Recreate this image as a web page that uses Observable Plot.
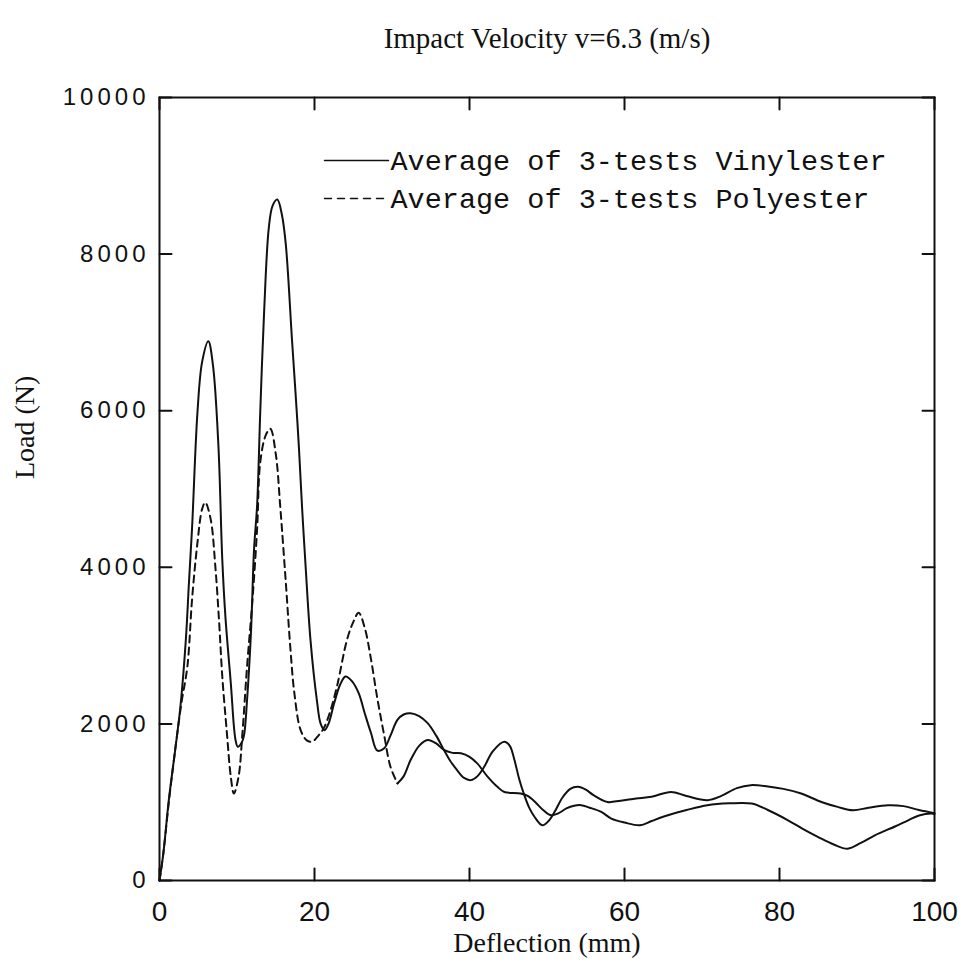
<!DOCTYPE html>
<html><head><meta charset="utf-8">
<script src="https://cdn.jsdelivr.net/npm/d3@7"></script>
<script src="https://cdn.jsdelivr.net/npm/@observablehq/plot@0.6"></script>
<style>
body{margin:0;background:#fff}
g[aria-label="y-axis tick label"] text{letter-spacing:4px}
</style>
</head><body><div id="chart"></div>
<script>
const titleText = "Impact Velocity v=6.3 (m/s)";
const xLabel = "Deflection (mm)";
const yLabel = "Load (N)";
const seriesNames = ["Average of 3-tests Vinylester", "Average of 3-tests Polyester"];
const xTicks = [0, 20, 40, 60, 80, 100];
const yTicks = [0, 2000, 4000, 6000, 8000, 10000];

const deflectionV = [0,0.5,1.2,2.0,2.7,3.4,3.8,4.2,4.9,5.5,6.3,6.9,7.6,8.1,8.5,9.2,9.8,10.1,10.6,10.9,11.3,11.8,12.2,12.6,13.0,13.5,14.1,14.6,15.2,15.8,16.3,17.1,17.6,18.0,18.4,18.85,19.5,20.3,20.8,21.3,21.8,22.5,23.3,24.0,24.8,25.7,26.5,27.3,28.1,29.0,29.8,30.7,31.5,32.4,33.5,34.6,35.7,36.7,37.5,38.4,39.3,40.2,41.0,41.9,43.0,44.5,45.2,45.8,46.4,47.0,47.7,48.4,49.4,50.2,51.0,52.0,53.0,54.0,55.0,56.0,57.8,59.5,61.5,63.5,66.0,68.0,70.7,72.5,74.5,76.3,78.5,80.5,82.8,85.4,87.5,89.5,91.5,94.0,96.0,98.0,100];
const loadV = [0,350,1026,1650,2222,3077,3803,4500,5983,6624,6888,6580,5556,4100,3376,2521,1800,1709,1760,1850,2308,3162,4231,4800,5983,7265,8333,8620,8696,8500,8120,6900,6154,5513,4758,4017,3050,2308,2000,1920,2000,2250,2500,2606,2550,2393,2130,1880,1660,1690,1850,2051,2120,2137,2100,2009,1850,1667,1530,1410,1310,1282,1330,1453,1650,1773,1720,1538,1300,1111,930,811,705,760,880,1060,1170,1196,1160,1090,1003,1020,1047,1070,1131,1080,1026,1080,1180,1218,1200,1170,1111,1003,940,897,930,962,950,900,860];

const deflectionP = [0,0.5,1.2,2.0,2.8,3.6,4.2,4.9,5.5,5.9,6.6,7.2,7.7,8.1,8.7,9.2,9.6,10.2,10.7,11.3,12.0,12.6,13.0,13.7,14.3,15.0,15.6,16.3,16.9,17.4,18.2,19.0,19.7,20.5,21.2,22.0,22.9,24.2,25.0,25.7,26.5,27.3,28.1,29.0,29.8,30.7,31.5,32.4,33.5,34.6,35.7,36.7,37.8,38.9,40.0,41.0,42.3,43.6,44.5,46.6,47.5,48.5,49.5,50.5,51.5,52.5,53.5,54.4,55.5,57.0,58.3,60.0,62.0,63.5,65.6,68.0,70.7,73.5,76.4,78.5,81.1,83.0,85.0,87.0,88.8,90.5,92.3,94.9,96.6,98.0,99.6,100];
const loadP = [0,350,1000,1650,2250,2735,3590,4316,4744,4829,4615,4017,3290,2607,1880,1325,1111,1325,1880,2735,3590,4500,5342,5684,5769,5450,4750,3803,2949,2393,1923,1790,1773,1850,1945,2150,2479,3077,3300,3419,3220,2820,2330,1850,1453,1240,1330,1538,1720,1795,1750,1667,1630,1624,1580,1496,1330,1196,1131,1111,1080,1000,900,833,860,920,955,962,930,876,791,740,705,760,833,900,962,985,983,900,769,660,555,460,406,480,577,690,769,830,855,850];

const dashEnd = 30.7;

const vin = deflectionV.map((d, i) => ({d, L: loadV[i]}));
const pol = deflectionP.map((d, i) => ({d, L: loadP[i]}));
const polDashed = pol.filter(p => p.d <= dashEnd);
const polSolid = pol.filter(p => p.d >= dashEnd);

const lineShape = {draw(ctx, l) { ctx.moveTo(0, 0); ctx.lineTo(0, -l); }};
const ink = "#111";

const chart = Plot.plot({
  width: 965, height: 964,
  marginLeft: 159, marginRight: 31, marginTop: 97, marginBottom: 84,
  x: {domain: [0, 100], label: null},
  y: {domain: [0, 10000], label: null},
  style: {background: "#fff", color: ink, fontFamily: "Liberation Sans"},
  marks: [
    Plot.axisX(xTicks, {anchor: "bottom", tickSize: 0, tickPadding: 21, fontSize: 28, fontFamily: "Liberation Sans", tickFormat: d => String(d), label: null}),
    Plot.axisY(yTicks, {anchor: "left", tickSize: 0, tickPadding: 10, fontSize: 24, fontFamily: "Liberation Sans", tickFormat: d => String(d), label: null}),
    Plot.vector(xTicks, {x: d => d, frameAnchor: "bottom", length: 12, rotate: 0, anchor: "start", shape: lineShape, strokeWidth: 2, stroke: ink}),
    Plot.vector(xTicks, {x: d => d, frameAnchor: "top", length: 12, rotate: 180, anchor: "start", shape: lineShape, strokeWidth: 2, stroke: ink}),
    Plot.vector(yTicks, {y: d => d, frameAnchor: "left", length: 12, rotate: 90, anchor: "start", shape: lineShape, strokeWidth: 2, stroke: ink}),
    Plot.vector(yTicks, {y: d => d, frameAnchor: "right", length: 12, rotate: -90, anchor: "start", shape: lineShape, strokeWidth: 2, stroke: ink}),
    Plot.line(vin, {x: "d", y: "L", stroke: ink, strokeWidth: 2, curve: "catmull-rom"}),
    Plot.line(polDashed, {x: "d", y: "L", stroke: ink, strokeWidth: 2, strokeDasharray: "7,5", curve: "catmull-rom"}),
    Plot.line(polSolid, {x: "d", y: "L", stroke: ink, strokeWidth: 2, curve: "catmull-rom"}),
    Plot.frame({stroke: ink, strokeWidth: 2}),
    // legend
    Plot.vector([seriesNames[0]], {frameAnchor: "top-left", dx: 165, dy: 63, length: 64, rotate: 90, anchor: "start", shape: lineShape, stroke: ink, strokeWidth: 1.5}),
    Plot.vector([seriesNames[1]], {frameAnchor: "top-left", dx: 165, dy: 101, length: 62, rotate: 90, anchor: "start", shape: lineShape, stroke: ink, strokeWidth: 1.5, strokeDasharray: "7,6"}),
    Plot.text([seriesNames[0]], {text: d => d, frameAnchor: "top-left", dx: 231, dy: 63, textAnchor: "start", lineAnchor: "middle", fontFamily: "Liberation Mono", fontSize: 28.5, fill: ink}),
    Plot.text([seriesNames[1]], {text: d => d, frameAnchor: "top-left", dx: 231, dy: 101, textAnchor: "start", lineAnchor: "middle", fontFamily: "Liberation Mono", fontSize: 28.5, fill: ink}),
    // titles
    Plot.text([titleText], {text: d => d, frameAnchor: "top", dy: -59, lineAnchor: "middle", fontFamily: "Liberation Serif", fontSize: 29, fill: ink}),
    Plot.text([xLabel], {text: d => d, frameAnchor: "bottom", dy: 63, lineAnchor: "middle", fontFamily: "Liberation Serif", fontSize: 28, fill: ink}),
    Plot.text([yLabel], {text: d => d, frameAnchor: "left", dx: -134, dy: -10, rotate: -90, fontFamily: "Liberation Serif", fontSize: 28, fill: ink})
  ]
});
document.getElementById("chart").appendChild(chart);
</script>
</body></html>
